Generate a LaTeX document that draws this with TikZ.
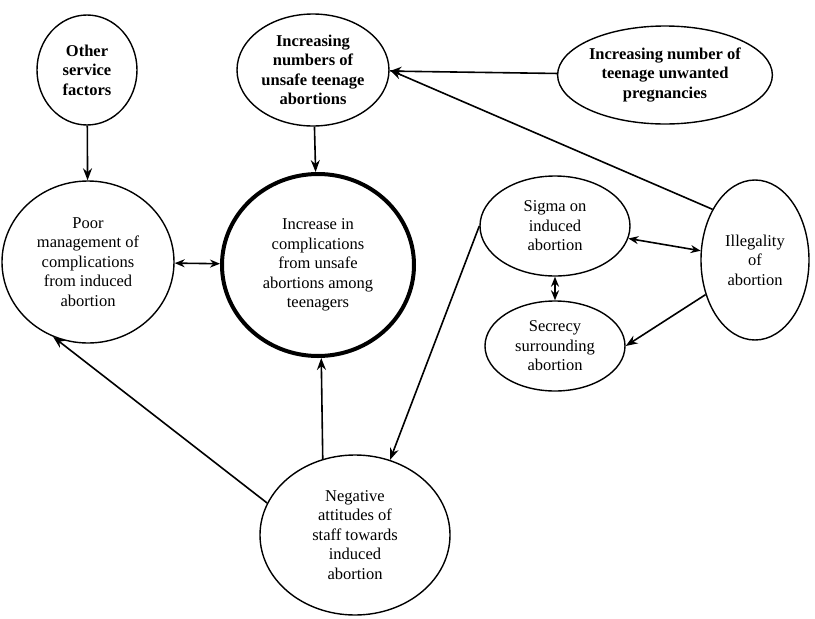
\documentclass[tikz,border=0pt]{standalone}
\usepackage{fontspec}
\setmainfont{Liberation Serif}
\usetikzlibrary{shapes.geometric,arrows.meta}
\begin{document}
\begin{tikzpicture}[x=1pt,y=-1pt,
 el/.style={ellipse,draw,line width=1.4pt,inner sep=0pt,align=center,font=\fontsize{16.5}{19.5}\selectfont},
 bf/.style={font=\bfseries\fontsize{16.5}{19.5}\selectfont},
 ar/.style={-{Stealth[length=12pt,width=9pt]},line width=1.6pt},
 br/.style={{Stealth[length=10pt,width=8pt]}-{Stealth[length=10pt,width=8pt]},line width=1.6pt}]
\useasboundingbox (0,0) rectangle (815,619);
\node[el,bf,minimum width=100,minimum height=110] (o) at (87,70) {Other\\service\\factors};
\node[el,bf,minimum width=152,minimum height=112] (u) at (313,70) {Increasing\\numbers of\\unsafe teenage\\abortions};
\node[el,bf,minimum width=184,minimum height=98] (p) at (665,75) {Increasing number of\\teenage unwanted\\pregnancies};
\node[el,minimum width=172,minimum height=162] (m) at (88,262) {Poor\\management of\\complications\\from induced\\abortion};
\node[el,minimum width=192,minimum height=182,line width=4pt] (c) at (318,265) {Increase in\\complications\\from unsafe\\abortions among\\teenagers};
\node[el,minimum width=150,minimum height=100] (s) at (555,226) {Sigma on\\induced\\abortion};
\node[el,minimum width=108,minimum height=160] (i) at (755,260) {Illegality\\of\\abortion};
\node[el,minimum width=140,minimum height=90] (q) at (555,346) {Secrecy\\surrounding\\abortion};
\node[el,minimum width=190,minimum height=160] (n) at (355,535) {Negative\\attitudes of\\staff towards\\induced\\abortion};
\draw[ar] (o) -- (m);
\draw[ar] (u) -- (c);
\draw[ar] (p) -- (u);
\draw[ar] (i.130) -- (u.east);
\draw[br] (m) -- (c);
\draw[br] (s) -- (i);
\draw[br] (s) -- (q);
\draw[ar] (i.215) -- (q.east);
\draw[ar] (s.180) -- (n.65);
\draw[ar] (n.113) -- (c.272);
\draw[ar] (n.160) -- (m.245);
\end{tikzpicture}
\end{document}
